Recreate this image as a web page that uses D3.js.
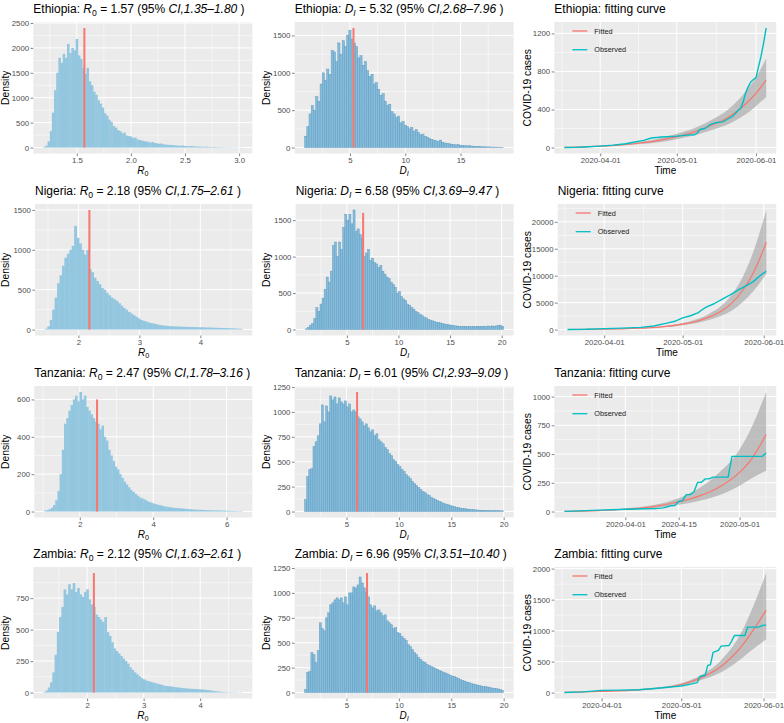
<!DOCTYPE html>
<html><head><meta charset="utf-8">
<script src="https://cdn.jsdelivr.net/npm/d3@7"></script>
<style>
body{margin:0;background:#fff;}
svg{display:block;font-family:"Liberation Sans",Arial,Helvetica,sans-serif;}
text{white-space:pre;}
</style></head><body>
<svg id="c" width="784" height="723"></svg>
<script>
// ---------------- DATA ----------------
const countries = ["Ethiopia","Nigeria","Tanzania","Zambia"];
const r0Est = [1.57, 2.18, 2.47, 2.12];
const r0Lo  = ["1.35","1.75","1.78","1.63"];
const r0Hi  = ["1.80","2.61","3.16","2.61"];
const diEst = [5.32, 6.58, 6.01, 6.96];
const diLo  = ["2.68","3.69","2.93","3.51"];
const diHi  = ["7.96","9.47","9.09","10.40"];
const r0LineTop = [2400, 1500, 600, 950];
const diLineTop = [1600, 1600, 1200, 1200];

// histogram bins: start, bin width, heights
const ethR0Start = 1.19, ethR0Width = 0.02;
const ethR0 = [15,40,120,330,700,1150,1500,1800,1700,1880,1800,2080,1900,2000,1950,2180,1850,1780,1600,1480,
 1600,1330,1250,1120,1060,950,880,800,690,640,560,510,430,400,350,330,290,300,240,230,
 220,190,200,160,150,140,130,120,115,100,110,90,85,75,80,65,60,55,50,52,
 45,40,38,35,40,30,28,25,30,22,20,18,20,15,14,15,12,10,12,9,
 8,8,7,6,6,5,5,4,4,3,3,2];
const nigR0Start = 1.45, nigR0Width = 0.04;
const nigR0 = [10,40,120,250,400,580,680,800,900,950,1000,1050,1300,1150,1080,1000,940,1000,760,720,
 650,610,570,520,500,460,430,400,380,360,330,300,270,250,220,200,180,160,140,120,
 110,100,90,80,75,70,60,55,50,48,45,42,40,40,38,36,35,34,33,32,
 32,30,30,28,28,26,25,25,24,22,22,20,20,18,18,16,15,14,12,10,8];
const tanR0Start = 1.03, tanR0Width = 0.06;
const tanR0 = [5,8,12,20,35,60,110,200,330,470,500,540,570,600,620,590,640,600,620,560,
 540,520,500,480,470,440,460,400,380,330,300,270,240,225,200,180,160,145,130,115,
 105,95,85,75,70,65,58,52,48,44,40,37,34,31,28,26,24,22,20,19,
 18,17,16,15,14,13,12,11,10,10,9,9,8,8,7,7,6,6,6,5,
 5,5,4,4,3,3,3,2,2,2];
const zamR0Start = 1.225, zamR0Width = 0.04;
const zamR0 = [5,15,40,80,160,300,480,600,680,820,780,860,820,870,800,830,780,760,800,820,
 740,700,680,620,600,580,560,600,480,450,400,350,330,310,290,270,250,230,200,180,
 160,145,130,115,105,95,90,85,80,75,70,65,60,55,52,50,48,45,42,40,
 38,36,34,32,30,30,28,27,26,25,24,22,20,18,15,12,10,8,6,5,
 4,3,3,2,2,2,1,2];

const ethDIStart = 0.9, ethDIWidth = 0.2;
const ethDI = [150,280,450,560,500,680,620,850,1000,900,1050,980,1300,1280,1150,1400,1250,1430,1350,1500,
 1570,1450,1400,1350,1200,1230,1100,1150,1030,950,980,850,870,780,700,720,620,560,580,480,
 450,400,420,330,350,300,280,250,270,220,240,200,170,180,150,140,120,110,100,90,
 80,100,70,60,55,50,45,40,35,40,30,28,25,22,25,20,18,15,15,12,
 10,10,8,8,6,6,5,5,4,3];
const nigDIStart = 1.0, nigDIWidth = 0.2;
const nigDI = [10,30,60,80,150,300,250,350,430,550,720,650,800,1150,1200,1000,1200,1100,1400,1580,
 1500,1580,1450,1640,1350,1380,1300,1250,1000,1050,1100,950,980,920,900,850,880,800,760,720,
 700,650,620,580,500,520,450,420,400,350,330,300,280,250,230,210,190,170,160,140,
 130,120,110,100,100,90,80,75,70,65,60,55,50,48,45,42,45,40,42,40,
 38,42,40,45,40,42,45,40,48,45,50,45,50,55,60,45];
const tanDIStart = 1.0, tanDIWidth = 0.2;
const tanDI = [120,350,420,430,650,700,760,880,1070,900,1060,1000,1160,1120,1150,1080,1140,1100,1080,1110,
 1050,1080,1000,1020,1000,950,930,900,860,880,840,800,820,760,780,720,700,680,640,620,
 580,560,520,500,470,450,420,400,370,350,330,300,280,260,240,220,200,190,170,160,
 140,130,120,110,100,90,80,75,68,60,55,48,42,38,34,30,28,25,22,20,
 18,17,15,14,13,12,11,10,10,9,9,8,8,7,7];
const zamDIStart = 1.0, zamDIWidth = 0.2;
const zamDI = [30,200,210,400,380,300,420,700,640,620,750,800,880,900,930,950,930,950,900,960,
 880,1000,1000,1060,1050,1080,1160,1100,1050,1000,960,880,850,870,820,830,800,770,780,720,
 700,680,640,650,600,590,560,540,520,480,460,430,400,380,350,330,310,300,280,270,
 260,250,240,230,220,210,200,195,185,175,165,160,150,140,130,120,115,105,100,90,
 85,80,75,70,65,60,58,55,50,45,42,40,35,30,20];

// axis tick values
const r0XTicks = [[1.5,2.0,2.5,3.0],[2,3,4],[2,4,6],[2,3,4]];
const r0XFmt = [".1f","d","d","d"];
const r0YTicks = [[0,500,1000,1500,2000,2500],[0,500,1000,1500],[0,200,400,600],[0,250,500,750]];
const diXTicks = [[5,10,15],[5,10,15,20],[5,10,15,20],[5,10,15,20]];
const diYTicks = [[0,500,1000,1500],[0,500,1000,1500],[0,250,500,750,1000,1250],[0,250,500,750,1000,1250]];
const fitYTicks = [[0,400,800,1200],[0,5000,10000,15000,20000],[0,250,500,750,1000],[0,500,1000,1500,2000]];
const fitXTicks = [["2020-04-01","2020-05-01","2020-06-01"],["2020-04-01","2020-05-01","2020-06-01"],
                   ["2020-04-01","2020-04-15","2020-05-01"],["2020-04-01","2020-05-01","2020-06-01"]];
const fitXLabels = [["2020-04-01","2020-05-01","2020-06-01"],["2020-04-01","2020-05-01","2020-06-01"],
                    ["2020-04-01","2020-4-15","2020-05-01"],["2020-04-01","2020-05-01","2020-06-01"]];

// fitting curves
const ethFitDates = ["2020-03-18","2020-03-25","2020-04-01","2020-04-08","2020-04-16","2020-04-24","2020-05-01","2020-05-08","2020-05-16","2020-05-20","2020-05-24","2020-05-28","2020-06-01","2020-06-05"];
const ethFitted = [1,6,14,25,45,75,115,165,250,300,370,460,570,710];
const ethUpper  = [2,8,19,33,58,95,145,205,310,375,470,590,740,940];
const ethLower  = [0,4,10,18,34,56,88,128,195,232,285,350,435,530];
const ethObsDates = ["2020-03-18","2020-03-22","2020-03-26","2020-04-01","2020-04-06","2020-04-11","2020-04-14","2020-04-18","2020-04-21","2020-04-25","2020-05-01","2020-05-05","2020-05-08","2020-05-09","2020-05-10","2020-05-12","2020-05-14","2020-05-16","2020-05-19","2020-05-21","2020-05-23","2020-05-25","2020-05-26","2020-05-27","2020-05-28","2020-05-29","2020-05-30","2020-05-31","2020-06-01","2020-06-02","2020-06-03","2020-06-04","2020-06-05"];
const ethObserved = [0,2,6,15,25,40,55,75,100,110,120,130,135,150,190,200,240,260,270,300,330,390,410,480,580,640,690,715,735,850,960,1100,1257];

const nigFitDates = ["2020-03-18","2020-03-25","2020-04-01","2020-04-08","2020-04-15","2020-04-22","2020-05-01","2020-05-06","2020-05-11","2020-05-16","2020-05-20","2020-05-24","2020-05-28","2020-06-02"];
const nigFitted = [5,30,70,130,250,450,1000,1500,2300,3500,5000,7300,10500,16200];
const nigUpper  = [6,36,84,160,300,540,1200,1850,2900,4500,6600,9800,14400,22200];
const nigLower  = [4,24,58,105,200,360,800,1180,1750,2600,3600,5100,7100,10300];
const nigObsDates = ["2020-03-18","2020-03-25","2020-04-01","2020-04-08","2020-04-15","2020-04-20","2020-04-25","2020-04-28","2020-05-01","2020-05-04","2020-05-07","2020-05-08","2020-05-10","2020-05-13","2020-05-16","2020-05-19","2020-05-22","2020-05-25","2020-05-28","2020-05-31","2020-06-02"];
const nigObserved = [8,50,170,270,410,660,1180,1530,2170,2560,3150,3530,4150,4790,5620,6400,7260,8070,8900,10160,10820];

const tanFitDates = ["2020-03-16","2020-03-25","2020-04-01","2020-04-08","2020-04-15","2020-04-20","2020-04-25","2020-05-01","2020-05-04","2020-05-08"];
const tanFitted = [1,8,20,40,85,130,200,340,450,670];
const tanUpper  = [2,11,27,54,115,195,320,540,720,1040];
const tanLower  = [0,6,14,28,60,90,135,225,285,355];
const tanObsDates = ["2020-03-16","2020-03-20","2020-03-25","2020-04-01","2020-04-06","2020-04-09","2020-04-11","2020-04-13","2020-04-14","2020-04-15","2020-04-16","2020-04-17","2020-04-18","2020-04-19","2020-04-20","2020-04-21","2020-04-22","2020-04-23","2020-04-24","2020-04-28","2020-04-29","2020-05-07","2020-05-08"];
const tanObserved = [1,6,12,20,24,25,32,50,53,88,94,147,147,170,254,254,284,284,299,299,480,480,509];

const zamFitDates = ["2020-03-18","2020-04-01","2020-04-15","2020-05-01","2020-05-08","2020-05-16","2020-05-24","2020-05-28","2020-06-02"];
const zamFitted = [2,20,45,130,230,420,760,1000,1330];
const zamUpper  = [3,25,55,150,270,520,1000,1380,1930];
const zamLower  = [1,15,36,110,195,330,560,700,860];
const zamObsDates = ["2020-03-18","2020-03-25","2020-04-01","2020-04-08","2020-04-15","2020-04-22","2020-05-01","2020-05-05","2020-05-07","2020-05-08","2020-05-10","2020-05-11","2020-05-12","2020-05-13","2020-05-15","2020-05-16","2020-05-19","2020-05-20","2020-05-21","2020-05-25","2020-05-26","2020-05-30","2020-06-01","2020-06-02"];
const zamObserved = [2,12,36,39,45,70,106,140,160,260,280,440,450,650,680,750,760,832,920,920,1057,1057,1089,1089];

const legendLabels = ["Fitted","Observed"];

// ---------------- LAYOUT / STYLE ----------------
const svg = d3.select("#c");
const parse = d3.utcParse("%Y-%m-%d");
const COLX = [0, 261.33, 522.67];
const ROWTOP = [22, 204, 386, 567];
const PH = 131.5;
const C = {bg:"#EBEBEB", red:"#F8766D", teal:"#00BFC4", r0Fill:"#93C6DF", diFill:"#86BCDA", diStroke:"#5B9AC0",
           tick:"#4D4D4D"};

function minors(maj, dom){
  const b = maj.slice();
  const bd = b[1]-b[0];
  const lo = Math.min(dom[0],dom[1]), hi = Math.max(dom[0],dom[1]);
  if (lo < b[0]) b.unshift(b[0]-bd);
  if (hi > b[b.length-1]) b.push(b[b.length-1]+bd);
  const m = [];
  for (let i=0;i<b.length-1;i++){ const v=(b[i]+b[i+1])/2; if (v>lo && v<hi) m.push(v); }
  return m;
}

function rich(parent, segs, size, subShift){
  const t = parent.append("text").attr("font-size", size).attr("fill","#000");
  const sh = size*(subShift||0.28);
  let shift = 0;
  segs.forEach(s=>{
    const ts = t.append("tspan").text(s.t);
    if (s.it) ts.attr("font-style","italic");
    if (s.sub){ ts.attr("font-size", size*0.72).attr("dy", sh); shift = sh; }
    else if (shift){ ts.attr("dy", -shift); shift = 0; }
  });
  return t;
}

function makePanel(col,row,leftOff,rightOff,xs,ys,xMaj,yMaj,xMajNum){
  const px = COLX[col]+leftOff, py = ROWTOP[row];
  const w = rightOff-leftOff, h = PH;
  xs.range([0,w]); ys.range([h,0]);
  const g = svg.append("g").attr("transform",`translate(${px},${py})`);
  g.append("rect").attr("width",w).attr("height",h).attr("fill",C.bg);
  const xd = xs.domain().map(Number), yd = ys.domain();
  const xm = minors(xMajNum || xMaj, xd), ym = minors(yMaj, yd);
  const grid = g.append("g").attr("stroke","#fff").attr("fill","none");
  xm.forEach(v=>grid.append("line").attr("x1",xs(v)).attr("x2",xs(v)).attr("y1",0).attr("y2",h).attr("stroke-width",0.5));
  ym.forEach(v=>grid.append("line").attr("y1",ys(v)).attr("y2",ys(v)).attr("x1",0).attr("x2",w).attr("stroke-width",0.5));
  (xMajNum||xMaj).forEach(v=>grid.append("line").attr("x1",xs(v)).attr("x2",xs(v)).attr("y1",0).attr("y2",h).attr("stroke-width",1));
  yMaj.forEach(v=>grid.append("line").attr("y1",ys(v)).attr("y2",ys(v)).attr("x1",0).attr("x2",w).attr("stroke-width",1));
  return {g,w,h,px,py};
}

function styleAxis(a){
  a.select(".domain").remove();
  a.selectAll(".tick line").attr("stroke","#333333").attr("stroke-width",0.6);
  a.selectAll(".tick text").attr("fill",C.tick).attr("font-size",7.8).attr("font-family",null);
  a.attr("font-family",null);
}

function axes(P,xs,ys,xVals,xFmt,yVals){
  const ax = P.g.append("g").attr("transform",`translate(0,${P.h})`)
    .call(d3.axisBottom(xs).tickValues(xVals).tickFormat(xFmt).tickSize(2.7).tickPadding(1.5));
  styleAxis(ax);
  const ay = P.g.append("g")
    .call(d3.axisLeft(ys).tickValues(yVals).tickFormat(d3.format("d")).tickSize(2.7).tickPadding(1.5));
  styleAxis(ay);
}

function labels(P,col,titleSegs,xSegs,yLab){
  rich(P.g.append("g").attr("transform",`translate(0,-9)`), titleSegs, 12);
  const xt = rich(P.g.append("g").attr("transform",`translate(${P.w/2},${P.h+20.5})`), xSegs, 10, 0.18);
  xt.attr("text-anchor","middle");
  P.g.append("text").attr("transform",`translate(${COLX[col]+8.5-P.px},${P.h/2}) rotate(-90)`)
    .attr("text-anchor","middle").attr("font-size",10.3).attr("fill","#000").text(yLab);
}

function drawHist(col,row,leftOff,start,bw,counts,est,lineTop,xTicks,xFmt,yTicks,titleSegs,xSegs,isDI){
  const lo = start, hi = start + bw*counts.length;
  const pad = 0.05*(hi-lo);
  const M = Math.max(d3.max(counts), lineTop);
  const xs = d3.scaleLinear().domain([lo-pad, hi+pad]);
  const ys = d3.scaleLinear().domain([-0.05*M, 1.05*M]);
  const P = makePanel(col,row,leftOff,252.3,xs,ys,xTicks,yTicks);
  const bars = P.g.append("g");
  counts.forEach((c,i)=>{
    const x0 = xs(start+i*bw), x1 = xs(start+(i+1)*bw);
    const r = bars.append("rect").attr("x",x0).attr("y",ys(c))
      .attr("height",ys(0)-ys(c));
    if (isDI) r.attr("width",x1-x0).attr("fill",C.diFill).attr("stroke",C.diStroke).attr("stroke-width",0.45);
    else r.attr("width",x1-x0+0.35).attr("fill",C.r0Fill);
  });
  P.g.append("line").attr("x1",xs(est)).attr("x2",xs(est)).attr("y1",ys(0)).attr("y2",ys(lineTop))
    .attr("stroke",C.red).attr("stroke-width",2);
  axes(P,xs,ys,xTicks,d3.format(xFmt),yTicks);
  labels(P,col,titleSegs,xSegs,"Density");
}

function drawFit(row,leftOff,fd,fit,up,lowr,od,obs,xTicks,xLabels,yTicks,name){
  const fDates = fd.map(parse), oDates = od.map(parse);
  const all = fDates.concat(oDates);
  const t0 = +d3.min(all), t1 = +d3.max(all), tp = 0.05*(t1-t0);
  const vmin = Math.min(d3.min(lowr), d3.min(obs), d3.min(fit));
  const vmax = Math.max(d3.max(up), d3.max(obs), d3.max(fit));
  const vp = 0.05*(vmax-vmin);
  const xs = d3.scaleUtc().domain([new Date(t0-tp), new Date(t1+tp)]);
  const ys = d3.scaleLinear().domain([vmin-vp, vmax+vp]);
  const xTickNums = xTicks.map(s=>+parse(s));
  const P = makePanel(2,row,leftOff,253.6,xs,ys,null,yTicks,xTickNums);
  const band = fDates.map((d,i)=>({d, lo:lowr[i], hi:up[i], f:fit[i]}));
  P.g.append("path").datum(band).attr("fill","#999999").attr("fill-opacity",0.55)
    .attr("d", d3.area().x(p=>xs(p.d)).y0(p=>ys(p.lo)).y1(p=>ys(p.hi)).curve(d3.curveMonotoneX));
  P.g.append("path").datum(band).attr("fill","none").attr("stroke",C.red).attr("stroke-width",1.2)
    .attr("d", d3.line().x(p=>xs(p.d)).y(p=>ys(p.f)).curve(d3.curveMonotoneX));
  P.g.append("path").datum(oDates.map((d,i)=>({d,v:obs[i]}))).attr("fill","none").attr("stroke",C.teal)
    .attr("stroke-width",1.4).attr("stroke-linejoin","round")
    .attr("d", d3.line().x(p=>xs(p.d)).y(p=>ys(p.v)));
  // legend
  const lg = P.g.append("g");
  [C.red, C.teal].forEach((c,i)=>{
    const yy = 9 + i*18.7;
    lg.append("line").attr("x1",18).attr("x2",33).attr("y1",yy).attr("y2",yy).attr("stroke",c).attr("stroke-width",1.3);
    lg.append("text").attr("x",40).attr("y",yy).attr("dy","0.35em").attr("font-size",7.3).attr("fill","#1a1a1a").text(legendLabels[i]);
  });
  const lblMap = new Map(xTickNums.map((n,i)=>[n,xLabels[i]]));
  axes(P,xs,ys,xTickNums.map(n=>new Date(n)),d=>lblMap.get(+d),yTicks);
  labels(P,2,[{t:name+": fitting curve"}],[{t:"Time"}],"COVID-19 cases");
}

// ---------------- DRAW ----------------
const r0Data = [[ethR0Start,ethR0Width,ethR0],[nigR0Start,nigR0Width,nigR0],[tanR0Start,tanR0Width,tanR0],[zamR0Start,zamR0Width,zamR0]];
const diData = [[ethDIStart,ethDIWidth,ethDI],[nigDIStart,nigDIWidth,nigDI],[tanDIStart,tanDIWidth,tanDI],[zamDIStart,zamDIWidth,zamDI]];
const r0Left = [33.3, 35, 34.3, 33.3];
const diLeft = [33.3, 34.3, 33.3, 33.3];
const fitLeft = [31.7, 35, 31.7, 31.7];
countries.forEach((name,i)=>{
  drawHist(0,i,r0Left[i],r0Data[i][0],r0Data[i][1],r0Data[i][2],r0Est[i],r0LineTop[i],r0XTicks[i],r0XFmt[i],r0YTicks[i],
    [{t:name+": "},{t:"R",it:true},{t:"0",sub:true},{t:" = "+r0Est[i].toFixed(2)+" (95% "},{t:"CI,"+r0Lo[i]+"–"+r0Hi[i],it:true},{t:" )"}],
    [{t:"R",it:true},{t:"0",sub:true}], false);
  drawHist(1,i,diLeft[i],diData[i][0],diData[i][1],diData[i][2],diEst[i],diLineTop[i],diXTicks[i],"d",diYTicks[i],
    [{t:name+": "},{t:"D",it:true},{t:"I",sub:true,it:true},{t:" = "+diEst[i].toFixed(2)+" (95% "},{t:"CI,"+diLo[i]+"–"+diHi[i],it:true},{t:" )"}],
    [{t:"D",it:true},{t:"I",sub:true,it:true}], true);
});
drawFit(0,fitLeft[0],ethFitDates,ethFitted,ethUpper,ethLower,ethObsDates,ethObserved,fitXTicks[0],fitXLabels[0],fitYTicks[0],countries[0]);
drawFit(1,fitLeft[1],nigFitDates,nigFitted,nigUpper,nigLower,nigObsDates,nigObserved,fitXTicks[1],fitXLabels[1],fitYTicks[1],countries[1]);
drawFit(2,fitLeft[2],tanFitDates,tanFitted,tanUpper,tanLower,tanObsDates,tanObserved,fitXTicks[2],fitXLabels[2],fitYTicks[2],countries[2]);
drawFit(3,fitLeft[3],zamFitDates,zamFitted,zamUpper,zamLower,zamObsDates,zamObserved,fitXTicks[3],fitXLabels[3],fitYTicks[3],countries[3]);
</script>
</body></html>
